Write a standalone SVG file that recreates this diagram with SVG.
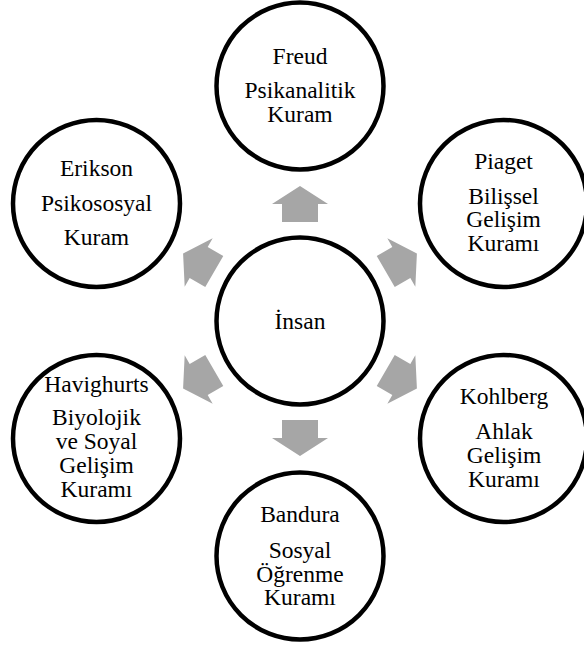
<svg xmlns="http://www.w3.org/2000/svg" xmlns:xlink="http://www.w3.org/1999/xlink" width="584" height="645" viewBox="0 0 584 645">
  <style>
    .node circle { fill: #ffffff; stroke: #000000; stroke-width: 4.5; }
    .node text { font-family: "Liberation Serif", "Times New Roman", serif; font-size: 23.5px; fill: #000000; text-anchor: middle; }
    .arrow { fill: #a6a6a6; stroke: none; }
  </style>
  <defs>
    <path id="arr" d="M -18,-99 L -18,-117 L -28,-117 L 0,-135 L 28,-117 L 18,-117 L 18,-99 Z"/>
  </defs>
  <rect x="0" y="0" width="584" height="645" fill="#ffffff"/>

  <g id="connectors">
    <use xlink:href="#arr" href="#arr" class="arrow" transform="translate(300,321) rotate(0)"/>
    <use xlink:href="#arr" href="#arr" class="arrow" transform="translate(300,321) rotate(60)"/>
    <use xlink:href="#arr" href="#arr" class="arrow" transform="translate(300,321) rotate(120)"/>
    <use xlink:href="#arr" href="#arr" class="arrow" transform="translate(300,321) rotate(180)"/>
    <use xlink:href="#arr" href="#arr" class="arrow" transform="translate(300,321) rotate(240)"/>
    <use xlink:href="#arr" href="#arr" class="arrow" transform="translate(300,321) rotate(300)"/>
  </g>

  <g id="node-insan" class="node">
    <circle cx="300" cy="321" r="83.5"/>
    <text x="300" y="328.5">İnsan</text>
  </g>

  <g id="node-freud" class="node">
    <circle cx="300" cy="86" r="83.5"/>
    <text x="300" y="63.5">Freud</text>
    <text x="300" y="98">Psikanalitik</text>
    <text x="300" y="122">Kuram</text>
  </g>

  <g id="node-piaget" class="node">
    <circle cx="503.5" cy="203.5" r="83.5"/>
    <text x="503.5" y="168.5">Piaget</text>
    <text x="503.5" y="203.5">Bilişsel</text>
    <text x="503.5" y="227">Gelişim</text>
    <text x="503.5" y="251">Kuramı</text>
  </g>

  <g id="node-kohlberg" class="node">
    <circle cx="503.5" cy="438.5" r="83.5"/>
    <text x="504" y="403.5">Kohlberg</text>
    <text x="504" y="438.5">Ahlak</text>
    <text x="504" y="462.5">Gelişim</text>
    <text x="504" y="486.5">Kuramı</text>
  </g>

  <g id="node-bandura" class="node">
    <circle cx="300" cy="556" r="83.5"/>
    <text x="300" y="521.5">Bandura</text>
    <text x="300" y="558">Sosyal</text>
    <text x="300" y="581.5">Öğrenme</text>
    <text x="300" y="605">Kuramı</text>
  </g>

  <g id="node-havighurts" class="node">
    <circle cx="96.5" cy="438.5" r="83.5"/>
    <text x="96.5" y="391.5">Havighurts</text>
    <text x="96.5" y="425">Biyolojik</text>
    <text x="96.5" y="449">ve Soyal</text>
    <text x="96.5" y="473">Gelişim</text>
    <text x="96.5" y="497">Kuramı</text>
  </g>

  <g id="node-erikson" class="node">
    <circle cx="96.5" cy="203.5" r="83.5"/>
    <text x="96.5" y="176">Erikson</text>
    <text x="96.5" y="210.5">Psikososyal</text>
    <text x="96.5" y="245">Kuram</text>
  </g>
</svg>
